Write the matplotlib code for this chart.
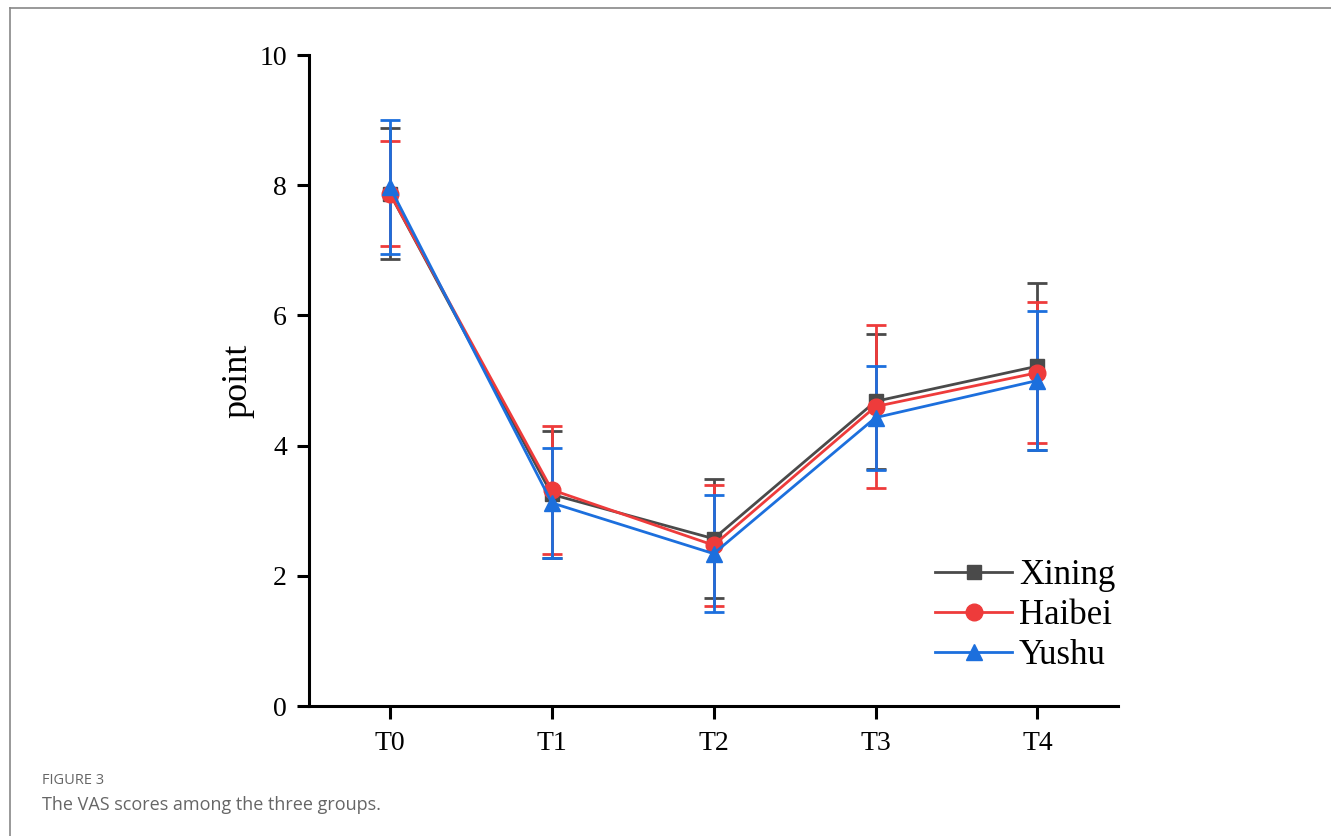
import matplotlib.pyplot as plt
from matplotlib.lines import Line2D

plt.rcParams["font.family"] = ["Liberation Serif", "DejaVu Serif"]

times = ['T0', 'T1', 'T2', 'T3', 'T4']

xining = [7.87, 3.25, 2.57, 4.68, 5.22]
xining_sd = [1.01, 0.97, 0.91, 1.04, 1.28]
haibei = [7.87, 3.32, 2.47, 4.60, 5.12]
haibei_sd = [0.81, 0.98, 0.93, 1.25, 1.08]
yushu = [7.97, 3.12, 2.34, 4.43, 5.00]
yushu_sd = [1.03, 0.84, 0.90, 0.80, 1.07]

c_x = '#4a4a4a'
c_h = '#ee3b3b'
c_y = '#1c6fdd'

fig = plt.figure(figsize=(13.31, 8.36), dpi=100)
ax = fig.add_axes([0.2322, 0.1555, 0.608, 0.7787])

x = list(range(len(times)))
ax.errorbar(x, xining, yerr=xining_sd, color=c_x, marker='s', markersize=10, lw=2,
            capsize=7, capthick=2, elinewidth=2, label='Xining')
ax.errorbar(x, haibei, yerr=haibei_sd, color=c_h, marker='o', markersize=12, lw=2,
            capsize=7, capthick=2, elinewidth=2, label='Haibei')
ax.errorbar(x, yushu, yerr=yushu_sd, color=c_y, marker='^', markersize=12, lw=2,
            capsize=7, capthick=2, elinewidth=2, label='Yushu')

ax.set_xlim(-0.5, 4.5)
ax.set_ylim(0, 10)
ax.set_xticks(x)
ax.set_xticklabels(times)
ax.set_yticks([0, 2, 4, 6, 8, 10])
ax.tick_params(labelsize=20, width=2.2, length=9, pad=7)
ax.tick_params(axis='x', pad=9)
ax.spines['top'].set_visible(False)
ax.spines['right'].set_visible(False)
ax.spines['left'].set_linewidth(2.2)
ax.spines['bottom'].set_linewidth(2.2)
ax.set_ylabel('point', fontsize=26)
ax.yaxis.set_label_coords(-0.068, 0.5)

handles = [Line2D([], [], color=c_x, marker='s', markersize=10, lw=2),
           Line2D([], [], color=c_h, marker='o', markersize=12, lw=2),
           Line2D([], [], color=c_y, marker='^', markersize=12, lw=2)]
ax.legend(handles, ['Xining', 'Haibei', 'Yushu'], loc='lower right', frameon=False,
          fontsize=25, handlelength=2.2, handletextpad=0.2, labelspacing=0.2,
          borderpad=0, borderaxespad=0,
          bbox_to_anchor=(1115/1331, 1-672/836), bbox_transform=fig.transFigure)

# page frame and caption
fig.add_artist(Line2D([10/1331, 1], [1-8/836, 1-8/836], color='#888888', lw=1.2))
fig.add_artist(Line2D([10/1331, 10/1331], [0, 1-8/836], color='#888888', lw=1.2))
fig.text(42/1331, 1-781/836, 'FIGURE 3', fontsize=10.5, color='#666666',
         family='Open Sans', va='center')
fig.text(42/1331, 1-805/836, 'The VAS scores among the three groups.', fontsize=13,
         color='#666666', family='Open Sans', va='center')

fig.savefig('out.png', dpi=100)
